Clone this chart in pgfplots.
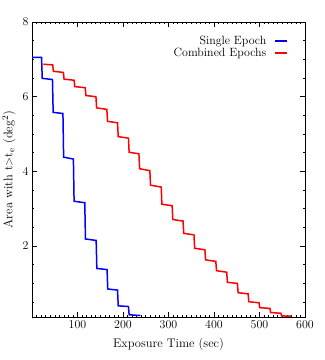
\documentclass[border=0pt]{standalone}
\usepackage{pgfplots}
\pgfplotsset{compat=1.18}
\begin{document}
\begin{tikzpicture}
\path[use as bounding box] (-32bp,-43bp) rectangle (293bp,317bp);
\begin{axis}[
  scale only axis, width=273bp, height=295bp,
  xmin=0, xmax=600, ymin=0.1, ymax=8,
  xtick={100,200,...,600}, ytick={2,4,6,8},
  minor xtick={0,10,...,600}, minor ytick={0.5,1,...,8},
  tick align=inside, major tick length=4.7bp, minor tick length=2.4bp,
  tick style={black, line width=0.5pt},
  axis line style={line width=0.6pt},
  font=\fontsize{12.5}{14}\selectfont,
  tick label style={font=\fontsize{12.5}{14}\selectfont},
  xlabel={Exposure Time (sec)},
  ylabel={Area with t$>$t$_\mathrm{e}$ (deg$^2$)},
  xlabel style={at={(axis description cs:0.5,0)}, anchor=center, yshift=-27bp},
  ylabel style={at={(axis description cs:0,0.5)}, anchor=center, yshift=23bp},
  legend plot pos=right, legend cell align=right,
  legend style={draw=none, fill=none, at={(1,1)}, anchor=north east,
    xshift=-14bp, yshift=-10bp, font=\fontsize{12}{13}\selectfont,
    row sep=-2bp},
  legend image code/.code={\path (0bp,0bp); \draw[#1] (6bp,0bp) -- (18bp,0bp);},
]
\addplot[blue, line width=1.5pt] coordinates {
  (0,7.05) (21,7.05) (22.5,6.49) (45,6.46) (46.5,5.58) (68,5.55)
  (69.5,4.38) (91,4.33) (92.5,3.2) (116,3.16) (117.5,2.19) (141,2.15)
  (142.5,1.40) (165,1.37) (166.5,0.85) (188,0.82) (189.5,0.40) (212,0.38)
  (213.5,0.16) (238,0.14)};
\addlegendentry{Single Epoch}
\addplot[red, line width=1.5pt] coordinates {
  (25,6.87) (45.5,6.85) (47,6.68) (69,6.65) (70.5,6.47) (92.5,6.44)
  (94,6.27) (117,6.24) (118.5,6.03) (140.5,6.0) (142,5.70) (164.5,5.66)
  (166,5.34) (188,5.30) (189.5,4.93) (212,4.89) (213.5,4.51) (235,4.47)
  (236.5,4.07) (259,4.02) (260.5,3.63) (284,3.58) (285.5,3.12) (308,3.08)
  (309.5,2.71) (332,2.67) (333.5,2.34) (356,2.30) (357.5,1.94) (380,1.90)
  (381.5,1.63) (404,1.59) (405.5,1.34) (428,1.30) (429.5,1.03) (451.5,1.0)
  (453,0.75) (475,0.72) (476.5,0.51) (499,0.48) (500.5,0.35) (523,0.33)
  (524.5,0.22) (547,0.20) (548.5,0.13) (570,0.12)};
\addlegendentry{Combined Epochs}
\end{axis}
\end{tikzpicture}
\end{document}
